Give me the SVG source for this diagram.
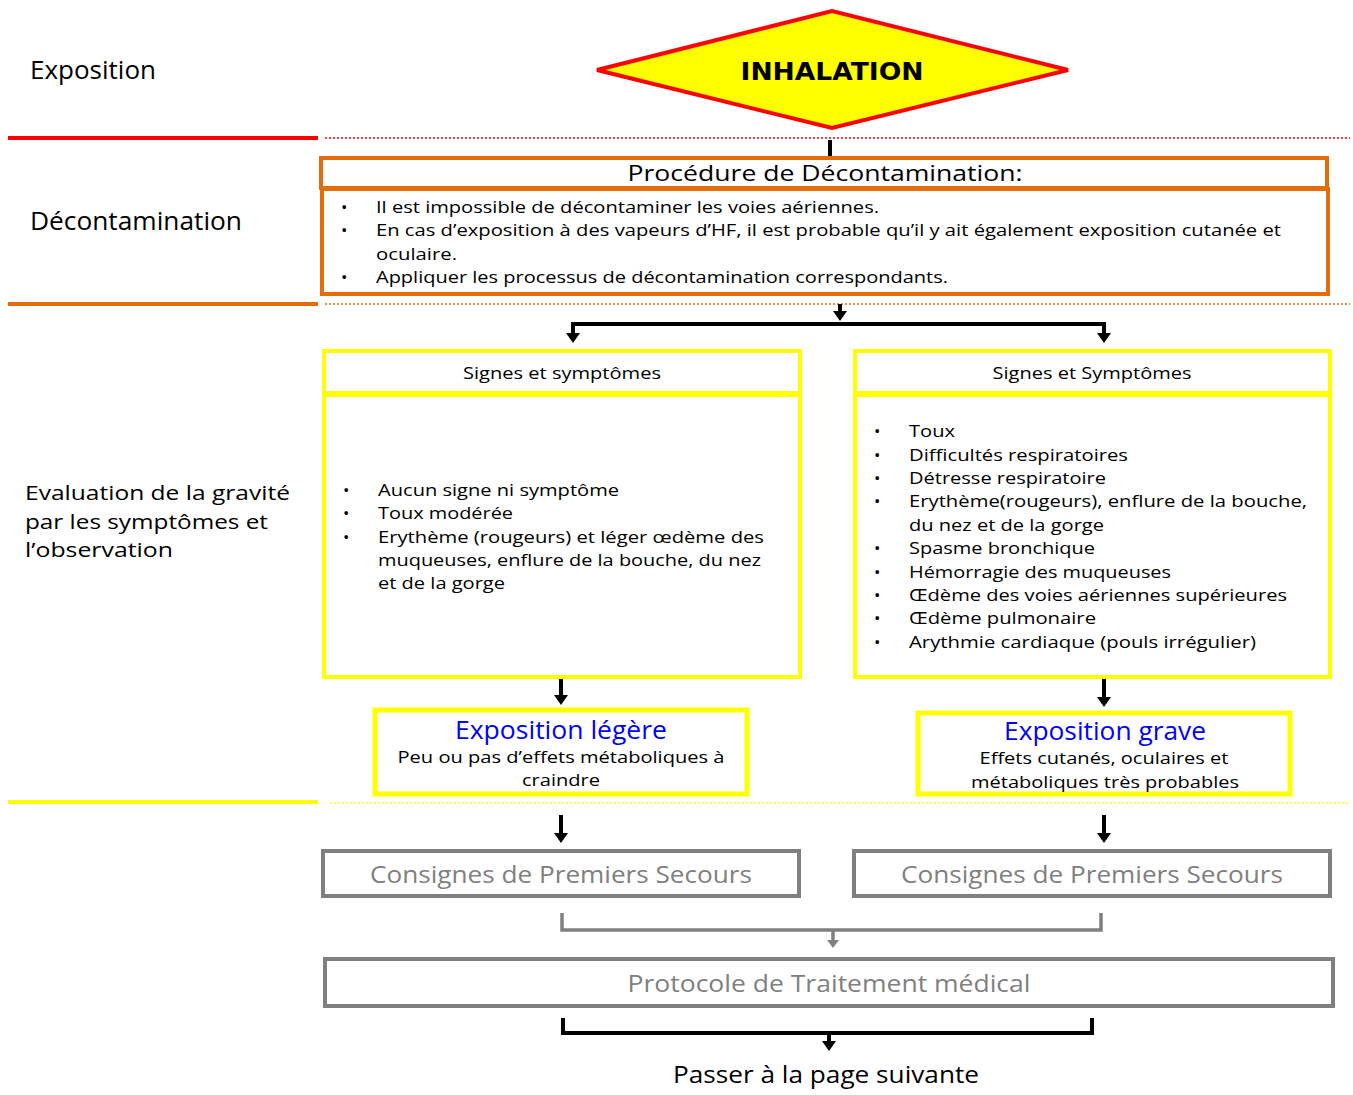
<svg xmlns="http://www.w3.org/2000/svg" width="1353" height="1095" viewBox="0 0 1353 1095">
  <style>
    text { font-family: "Open Sans", "Noto Sans", "DejaVu Sans", sans-serif; fill: #000; }
    .lbl { font-size: 20.5px; }
    .body { font-size: 17px; }
    .ctr { text-anchor: middle; }
    .ybox { fill: #fff; stroke: #ffff00; stroke-width: 4; }
    .obox { fill: #fff; stroke: #e46c0a; stroke-width: 4; }
    .gbox { fill: #fff; stroke: #808080; stroke-width: 4; }
    .gtxt { font-size: 24px; fill: #808080; text-anchor: middle; }
    .blue { font-size: 25px; fill: #0000ff; text-anchor: middle; }
    .conn { fill: none; stroke: #000; stroke-width: 4; }
    .gconn { fill: none; stroke: #808080; stroke-width: 3.5; }
  </style>
  <defs>
    <marker id="ah" viewBox="0 0 10 14" refX="0" refY="7" markerWidth="10" markerHeight="14" markerUnits="userSpaceOnUse" orient="auto">
      <path d="M0,0 L10,7 L0,14 z" fill="#000"/>
    </marker>
    <marker id="ahg" viewBox="0 0 8 12" refX="0" refY="6" markerWidth="8" markerHeight="12" markerUnits="userSpaceOnUse" orient="auto">
      <path d="M0,0 L8,6 L0,12 z" fill="#808080"/>
    </marker>
  </defs>

  <!-- stage labels and separators -->
  <g id="stages">
    <text class="lbl" x="30" y="79" style="font-size:25px" textLength="126" lengthAdjust="spacingAndGlyphs">Exposition</text>
    <text class="lbl" x="30" y="230" style="font-size:25px" textLength="212" lengthAdjust="spacingAndGlyphs">Décontamination</text>
    <text class="lbl" x="25" y="500" textLength="265" lengthAdjust="spacingAndGlyphs">Evaluation de la gravité</text>
    <text class="lbl" x="25" y="529" textLength="243" lengthAdjust="spacingAndGlyphs">par les symptômes et</text>
    <text class="lbl" x="25" y="557" textLength="148" lengthAdjust="spacingAndGlyphs">l’observation</text>
    <line x1="8" y1="138" x2="318" y2="138" stroke="#ff0000" stroke-width="4"/>
    <line x1="325" y1="138" x2="1350" y2="138" stroke="#ff0000" stroke-width="1.5" stroke-dasharray="2 2"/>
    <line x1="8" y1="304" x2="318" y2="304" stroke="#e46c0a" stroke-width="4"/>
    <line x1="325" y1="304" x2="1350" y2="304" stroke="#e46c0a" stroke-width="1.5" stroke-dasharray="2 2"/>
    <line x1="8" y1="802" x2="318" y2="802" stroke="#ffff00" stroke-width="4"/>
    <line x1="330" y1="803" x2="1350" y2="803" stroke="#ffff00" stroke-width="1.5" stroke-dasharray="2 2"/>
  </g>

  <!-- connectors -->
  <g id="connectors">
    <line class="conn" x1="830" y1="140" x2="830" y2="157"/>
    <line class="conn" x1="840" y1="304" x2="840" y2="311" marker-end="url(#ah)"/>
    <polyline class="conn" points="573,335 573,324 1104,324 1104,335"/>
    <line class="conn" x1="573" y1="330" x2="573" y2="333" marker-end="url(#ah)"/>
    <line class="conn" x1="1104" y1="330" x2="1104" y2="333" marker-end="url(#ah)"/>
    <line class="conn" x1="561" y1="677" x2="561" y2="695" marker-end="url(#ah)"/>
    <line class="conn" x1="1104" y1="677" x2="1104" y2="697" marker-end="url(#ah)"/>
    <line class="conn" x1="561" y1="815" x2="561" y2="833" marker-end="url(#ah)"/>
    <line class="conn" x1="1104" y1="815" x2="1104" y2="833" marker-end="url(#ah)"/>
    <polyline class="gconn" points="562,913 562,930 1101,930 1101,913"/>
    <line class="gconn" x1="833" y1="930" x2="833" y2="940" marker-end="url(#ahg)"/>
    <polyline class="conn" points="563,1018 563,1033 1092,1033 1092,1018"/>
    <line class="conn" x1="829" y1="1033" x2="829" y2="1041" marker-end="url(#ah)"/>
  </g>

  <!-- exposure route -->
  <g id="inhalation">
    <polygon points="597,70 832,11 1068,70 832,128" fill="#ffff00" stroke="#ff0000" stroke-width="4"/>
    <text x="832" y="80" class="ctr" style="font-family:'DejaVu Sans',Verdana,sans-serif;font-weight:bold;font-size:25.5px" textLength="183" lengthAdjust="spacingAndGlyphs">INHALATION</text>
  </g>

  <!-- decontamination procedure -->
  <g id="decontamination">
    <rect class="obox" x="321" y="158" width="1006" height="30"/>
    <text x="825" y="181" class="ctr" style="font-size:22px" textLength="395" lengthAdjust="spacingAndGlyphs">Procédure de Décontamination:</text>
    <rect class="obox" x="322" y="189" width="1006" height="105"/>
    <g class="body">
      <text x="341" y="213">•</text><text x="376" y="213" textLength="503" lengthAdjust="spacingAndGlyphs">Il est impossible de décontaminer les voies aériennes.</text>
      <text x="341" y="236">•</text><text x="376" y="236" textLength="905" lengthAdjust="spacingAndGlyphs">En cas d’exposition à des vapeurs d’HF, il est probable qu’il y ait également exposition cutanée et</text>
      <text x="376" y="260" textLength="81" lengthAdjust="spacingAndGlyphs">oculaire.</text>
      <text x="341" y="283">•</text><text x="376" y="283" textLength="572" lengthAdjust="spacingAndGlyphs">Appliquer les processus de décontamination correspondants.</text>
    </g>
  </g>

  <!-- mild signs -->
  <g id="signes-legers">
    <rect class="ybox" x="324" y="351" width="476" height="42"/>
    <text x="562" y="379" class="ctr body" textLength="198" lengthAdjust="spacingAndGlyphs">Signes et symptômes</text>
    <rect class="ybox" x="324" y="395" width="476" height="282"/>
    <g class="body">
      <text x="343" y="496">•</text><text x="378" y="496" textLength="241" lengthAdjust="spacingAndGlyphs">Aucun signe ni symptôme</text>
      <text x="343" y="519">•</text><text x="378" y="519" textLength="135" lengthAdjust="spacingAndGlyphs">Toux modérée</text>
      <text x="343" y="543">•</text><text x="378" y="543" textLength="386" lengthAdjust="spacingAndGlyphs">Erythème (rougeurs) et léger œdème des</text>
      <text x="378" y="566" textLength="383" lengthAdjust="spacingAndGlyphs">muqueuses, enflure de la bouche, du nez</text>
      <text x="378" y="589" textLength="127" lengthAdjust="spacingAndGlyphs">et de la gorge</text>
    </g>
  </g>

  <!-- severe signs -->
  <g id="signes-graves">
    <rect class="ybox" x="855" y="351" width="475" height="42"/>
    <text x="1092" y="379" class="ctr body" textLength="199" lengthAdjust="spacingAndGlyphs">Signes et Symptômes</text>
    <rect class="ybox" x="855" y="395" width="475" height="282"/>
    <g class="body">
      <text x="874" y="437">•</text><text x="909" y="437" textLength="46" lengthAdjust="spacingAndGlyphs">Toux</text>
      <text x="874" y="461">•</text><text x="909" y="461" textLength="219" lengthAdjust="spacingAndGlyphs">Difficultés respiratoires</text>
      <text x="874" y="484">•</text><text x="909" y="484" textLength="197" lengthAdjust="spacingAndGlyphs">Détresse respiratoire</text>
      <text x="874" y="507">•</text><text x="909" y="507" textLength="398" lengthAdjust="spacingAndGlyphs">Erythème(rougeurs), enflure de la bouche,</text>
      <text x="909" y="531" textLength="195" lengthAdjust="spacingAndGlyphs">du nez et de la gorge</text>
      <text x="874" y="554">•</text><text x="909" y="554" textLength="186" lengthAdjust="spacingAndGlyphs">Spasme bronchique</text>
      <text x="874" y="578">•</text><text x="909" y="578" textLength="262" lengthAdjust="spacingAndGlyphs">Hémorragie des muqueuses</text>
      <text x="874" y="601">•</text><text x="909" y="601" textLength="378" lengthAdjust="spacingAndGlyphs">Œdème des voies aériennes supérieures</text>
      <text x="874" y="624">•</text><text x="909" y="624" textLength="187" lengthAdjust="spacingAndGlyphs">Œdème pulmonaire</text>
      <text x="874" y="648">•</text><text x="909" y="648" textLength="347" lengthAdjust="spacingAndGlyphs">Arythmie cardiaque (pouls irrégulier)</text>
    </g>
  </g>

  <!-- mild exposure outcome -->
  <g id="exposition-legere">
    <rect class="ybox" x="375" y="710" width="372" height="84" style="stroke-width:5"/>
    <text x="561" y="739" class="blue" textLength="212" lengthAdjust="spacingAndGlyphs">Exposition légère</text>
    <text x="561" y="763" class="ctr body" textLength="327" lengthAdjust="spacingAndGlyphs">Peu ou pas d’effets métaboliques à</text>
    <text x="561" y="786" class="ctr body" textLength="78" lengthAdjust="spacingAndGlyphs">craindre</text>
  </g>

  <!-- severe exposure outcome -->
  <g id="exposition-grave">
    <rect class="ybox" x="918" y="713" width="372" height="81" style="stroke-width:5"/>
    <text x="1105" y="740" class="blue" textLength="202" lengthAdjust="spacingAndGlyphs">Exposition grave</text>
    <text x="1104" y="764" class="ctr body" textLength="249" lengthAdjust="spacingAndGlyphs">Effets cutanés, oculaires et</text>
    <text x="1105" y="788" class="ctr body" textLength="268" lengthAdjust="spacingAndGlyphs">métaboliques très probables</text>
  </g>

  <!-- first aid -->
  <g id="secours-legers">
    <rect class="gbox" x="323" y="851" width="476" height="45"/>
    <text x="561" y="883" class="gtxt" textLength="382" lengthAdjust="spacingAndGlyphs">Consignes de Premiers Secours</text>
  </g>
  <g id="secours-graves">
    <rect class="gbox" x="854" y="851" width="476" height="45"/>
    <text x="1092" y="883" class="gtxt" textLength="382" lengthAdjust="spacingAndGlyphs">Consignes de Premiers Secours</text>
  </g>

  <!-- medical treatment -->
  <g id="traitement">
    <rect class="gbox" x="325" y="959" width="1008" height="47"/>
    <text x="829" y="992" class="gtxt" textLength="403" lengthAdjust="spacingAndGlyphs">Protocole de Traitement médical</text>
  </g>

  <g id="suite">
    <text x="826" y="1083" class="ctr" style="font-size:23.5px" textLength="306" lengthAdjust="spacingAndGlyphs">Passer à la page suivante</text>
  </g>
</svg>
